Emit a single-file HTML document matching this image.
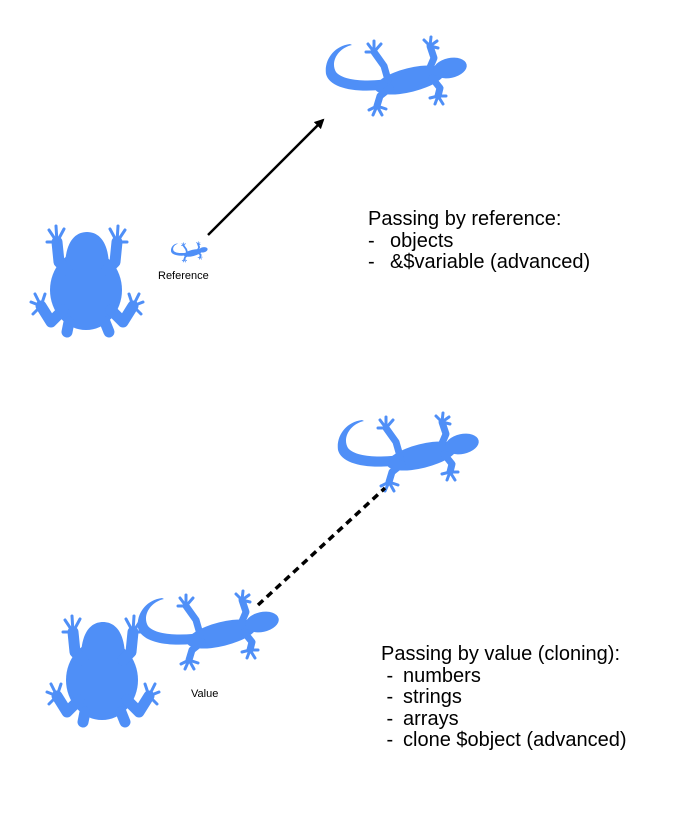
<!DOCTYPE html>
<html><head><style>
html,body{margin:0;padding:0;background:#fff;}
body{width:674px;height:825px;position:relative;overflow:hidden;font-family:"Liberation Sans",sans-serif;}
.b{position:absolute;font-size:20px;line-height:21.5px;color:#000;white-space:nowrap;}
.b span{display:inline-block;width:22px;}
.s{position:absolute;font-size:11px;color:#000;}
</style></head><body>
<svg width="674" height="825" style="position:absolute;left:0;top:0">
<defs>
<g id="gecko" fill="#4f8ff7" stroke="#4f8ff7">
  <path stroke="none" d="M28,6 C12,8 2,22 4,36 C8,52 40,56 72,50 L74,40 C50,44 22,44 14,34 C8,24 16,10 30,7 Z"/>
  <ellipse stroke="none" cx="88" cy="42" rx="36" ry="12" transform="rotate(-14 88 42)"/>
  <ellipse stroke="none" cx="128" cy="30" rx="17" ry="10" transform="rotate(-12 128 30)"/>
  <g fill="none" stroke-width="7" stroke-linecap="round" stroke-linejoin="round">
    <polyline points="66,42 62,28 52,14"/>
    <polyline points="68,50 58,58 55,68"/>
    <polyline points="106,34 112,20 108,8"/>
    <polyline points="110,40 118,50 116,58"/>
  </g>
  <g fill="none" stroke-width="3" stroke-linecap="round">
    <path d="M52,14 L46,6 M52,14 L52,3 M52,14 L59,6 M52,14 L44,14"/>
    <path d="M55,68 L47,72 M55,68 L51,77 M55,68 L60,77 M55,68 L64,71"/>
    <path d="M108,8 L102,2 M108,8 L109,-1 M108,8 L115,3 M108,8 L116,10"/>
    <path d="M116,58 L108,60 M116,58 L113,66 M116,58 L121,66 M116,58 L124,58"/>
  </g>
</g>
<g id="frog" fill="#4f8ff7" stroke="#4f8ff7">
  <ellipse stroke="none" cx="57" cy="68" rx="36" ry="40"/>
  <path stroke="none" d="M36,46 C36,20 46,10 58,10 C70,10 80,20 80,46 Z"/>
  <g fill="none" stroke-width="11" stroke-linecap="round" stroke-linejoin="round">
    <polyline points="38,48 30,40 28,20"/>
    <polyline points="78,48 86,40 88,20"/>
    <polyline points="34,88 22,100 12,84"/>
    <polyline points="82,88 94,100 104,84"/>
    <polyline points="40,100 38,110"/>
    <polyline points="76,100 80,110"/>
  </g>
  <g fill="none" stroke-width="3" stroke-linecap="round">
    <path d="M28,20 L20,8 M28,20 L27,4 M28,20 L35,7 M28,20 L18,20"/>
    <path d="M88,20 L96,8 M88,20 L89,4 M88,20 L81,7 M88,20 L98,20"/>
    <path d="M12,84 L2,80 M12,84 L6,72 M12,84 L16,72 M12,84 L4,92"/>
    <path d="M104,84 L114,80 M104,84 L110,72 M104,84 L100,72 M104,84 L112,92"/>
  </g>
</g>
<marker id="ah" markerWidth="10" markerHeight="10" refX="8" refY="5" orient="auto" markerUnits="userSpaceOnUse">
  <path d="M0,0 L10,5 L0,10 Z" fill="#000"/>
</marker>
</defs>
<use href="#gecko" transform="translate(322,38)"/>
<use href="#gecko" transform="translate(134,592)"/>
<use href="#gecko" transform="translate(334,414)"/>
<use href="#gecko" transform="translate(170,242) scale(0.26)"/>
<use href="#frog" transform="translate(29,222)"/>
<use href="#frog" transform="translate(45,612)"/>
<line x1="208" y1="235" x2="323" y2="120" stroke="#000" stroke-width="2.5" marker-end="url(#ah)"/>
<line x1="258" y1="605" x2="385" y2="488" stroke="#000" stroke-width="3.5" stroke-dasharray="7,5"/>
</svg>
<div class="s" style="left:158px;top:270px">Reference</div>
<div class="s" style="left:191px;top:688px">Value</div>
<div class="b" style="left:368px;top:209px">Passing by reference:<br><span>-</span>objects<br><span>-</span>&amp;$variable (advanced)</div>
<div class="b" style="left:381px;top:644px">Passing by value (cloning):<br><span>&nbsp;-</span>numbers<br><span>&nbsp;-</span>strings<br><span>&nbsp;-</span>arrays<br><span>&nbsp;-</span>clone $object (advanced)</div>
</body></html>
